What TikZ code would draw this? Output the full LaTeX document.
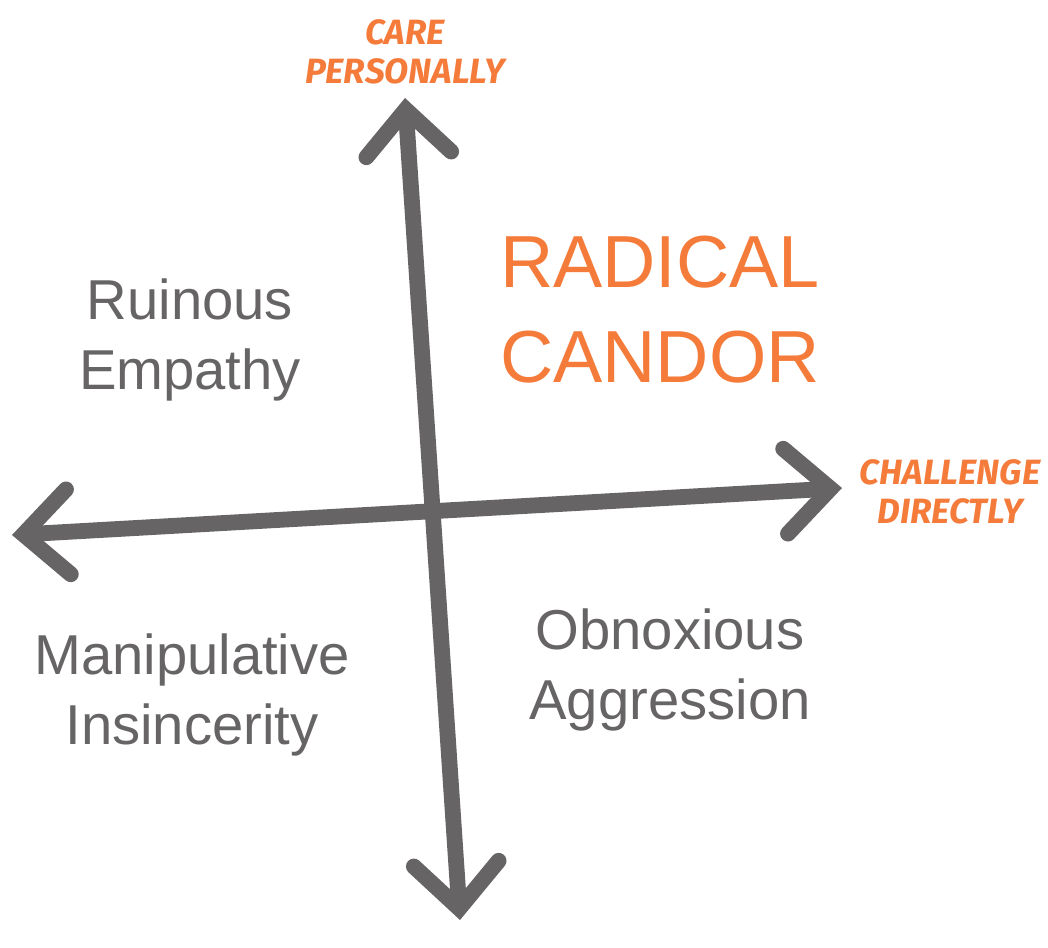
\documentclass[tikz,border=0pt]{standalone}
\usepackage{fontspec}
\setmainfont{Liberation Sans}
\newfontfamily\labelfont{Fira Sans}
\usetikzlibrary{positioning}
\usetikzlibrary {arrows.meta}
\definecolor{axisgray}{HTML}{666464}
\definecolor{candor}{HTML}{F47B3A}
\tikzset{axisline/.style={line width=9pt,draw=axisgray,line cap=round,
{Straight Barb[length=9mm,width=17mm,line cap=round]}-{Straight Barb[length=9mm,width=17mm,line cap=round]}}}
\tikzset{quadrant/.style={text=axisgray,align=center,font=\fontsize{32}{40}\selectfont}}
\tikzset{axislabel/.style={text=candor,align=center,font=\labelfont\bfseries\itshape\fontsize{20}{22}\selectfont}}

\begin{document}
\begin{tikzpicture}[x=0.02cm,y=-0.02cm]
        \useasboundingbox (0,0) rectangle (1048,947);

        \coordinate (careTop) at (405,98);
        \coordinate (careBottom) at (460,920);
        \coordinate (challLeft) at (12,535);
        \coordinate (challRight) at (842,488);

        \draw[axisline] (careBottom) -- (careTop);
        \draw[axisline] (challLeft) -- (challRight);

        \node[axislabel] (care) at (405,52) {CARE\\PERSONALLY};
        \node[axislabel] (challenge) at (950,492) {CHALLENGE\\DIRECTLY};

        \node[text=candor,align=center,font=\fontsize{42}{54}\selectfont] (radical) at (660,310) {RADICAL\\CANDOR};
        \node[quadrant] (ruinous) at (190,340) {Ruinous\\Empathy};
        \node[quadrant] (manip) at (192,695) {Manipulative\\Insincerity};
        \node[quadrant] (obnox) at (670,670) {Obnoxious\\Aggression};

    \end{tikzpicture}
\end{document}
